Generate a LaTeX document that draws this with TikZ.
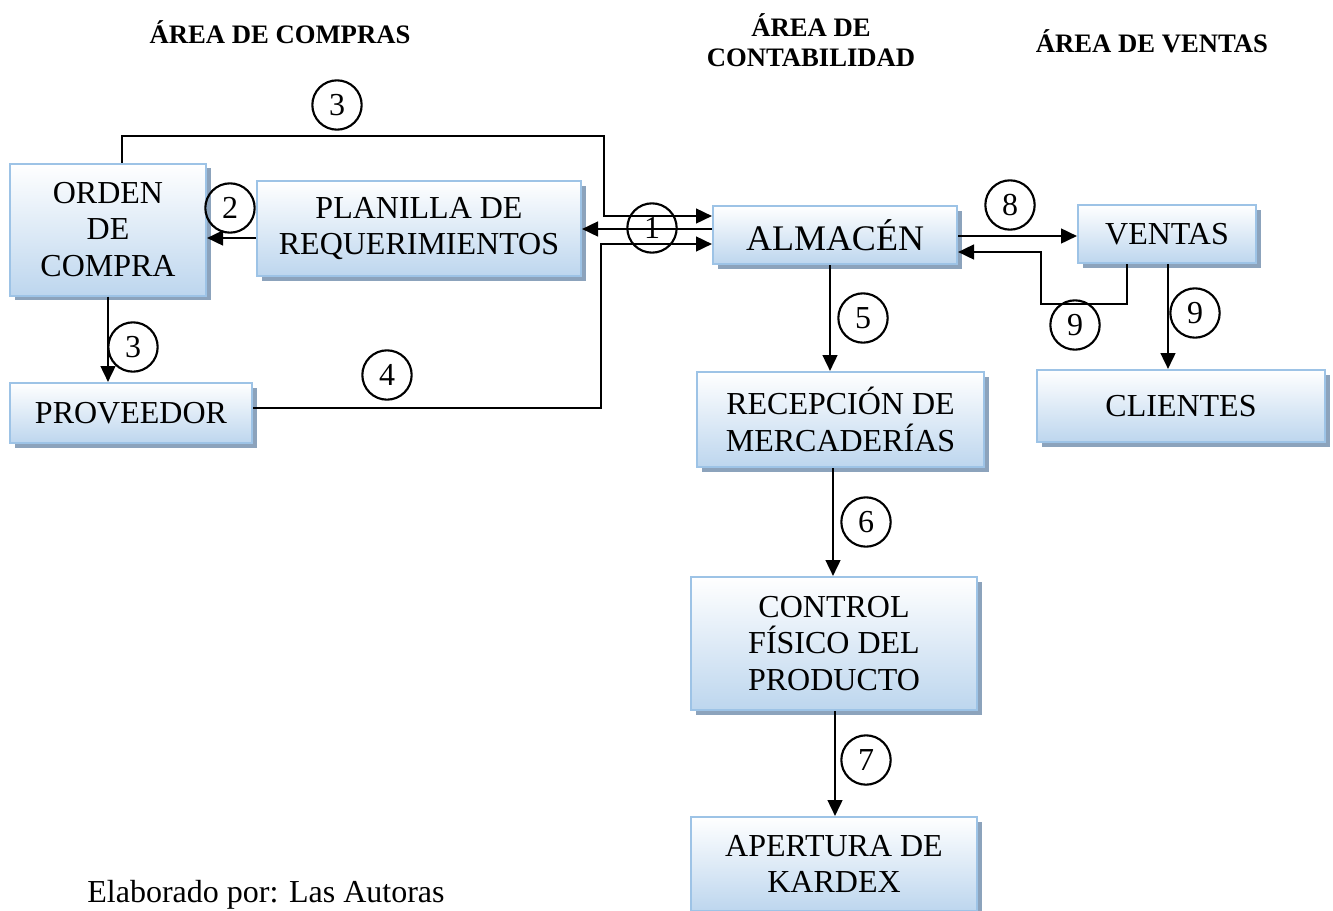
\documentclass[tikz,border=0pt]{standalone}
\usepackage{fontspec}
\setmainfont{Liberation Serif}
\usetikzlibrary{shadows,arrows.meta}
\definecolor{boxborder}{HTML}{9DC3E6}
\definecolor{boxbottom}{HTML}{BDD6EE}
\definecolor{boxshadow}{HTML}{8CA3BC}
\tikzset{
  flowbox/.style={draw=boxborder, line width=1.5pt, top color=white, bottom color=boxbottom,
    drop shadow={shadow xshift=3.5pt, shadow yshift=-3.5pt, fill=boxshadow, opacity=1},
    inner sep=0pt, align=center, font=\fontsize{24}{27.5}\selectfont},
  numcirc/.style={draw, circle, line width=1.6pt, minimum size=37pt, inner sep=0pt,
    font=\fontsize{24}{24}\selectfont},
  arr/.style={line width=1.9pt, -{Triangle[length=12pt,width=11pt]}},
  header/.style={font=\fontsize{20}{22.5}\selectfont\bfseries, align=center}
}
\begin{document}
\begin{tikzpicture}[x=0.75pt,y=-0.75pt]
\useasboundingbox (0,0) rectangle (1333,910);
% headers
\node[header] (hc) at (280,32) {ÁREA DE COMPRAS};
\node[header] (hk) at (811,40) {ÁREA DE\\CONTABILIDAD};
\node[header] (hv) at (1152,41) {ÁREA DE VENTAS};
\node[font=\fontsize{24}{27}\selectfont] (foot) at (266,895) {Elaborado por: Las Autoras};
% boxes
\node[flowbox, minimum width=147pt, minimum height=99pt] (orden) at (108,229.5) {ORDEN\\DE\\COMPRA};
\node[flowbox, minimum width=243pt, minimum height=71.25pt] (planilla) at (419,228.5) {PLANILLA DE\\REQUERIMIENTOS};
\node[flowbox, minimum width=183pt, minimum height=43.5pt, font=\fontsize{27}{30}\selectfont] (almacen) at (835,235) {ALMACÉN};
\node[flowbox, minimum width=133.5pt, minimum height=43.5pt] (ventas) at (1167,234) {VENTAS};
\node[flowbox, minimum width=215.25pt, minimum height=71.25pt] (recepcion) at (840.5,419.5) {RECEPCIÓN DE\\MERCADERÍAS};
\node[flowbox, minimum width=216pt, minimum height=54pt] (clientes) at (1181,406) {CLIENTES};
\node[flowbox, minimum width=181.5pt, minimum height=45pt] (proveedor) at (131,413) {PROVEEDOR};
\node[flowbox, minimum width=214.5pt, minimum height=99.75pt] (control) at (834,643.5) {CONTROL\\FÍSICO DEL\\PRODUCTO};
\node[flowbox, minimum width=214.5pt, minimum height=70.5pt] (apertura) at (834,864) {APERTURA DE\\KARDEX};
% helper coordinates
\coordinate (yA1) at (0,216);
\coordinate (yA2) at (0,229);
\coordinate (yA3) at (0,244);
\coordinate (y2) at (0,238);
\coordinate (y8) at (0,236);
\coordinate (k3) at (604,136);
\coordinate (k3s) at (122,0);
\coordinate (k4) at (601,408);
\coordinate (x5) at (830,0);
\coordinate (x6) at (833,0);
\coordinate (x7) at (835,0);
\coordinate (k9a) at (1127,304);
\coordinate (k9b) at (1041,252);
\coordinate (x9) at (1168,0);
% connectors
\draw[arr] (orden.north -| k3s) |- (k3) |- (almacen.west |- yA1);
\draw[arr] (almacen.west |- yA2) -- (planilla.east |- yA2);
\draw[arr] (proveedor.east |- k4) -- (k4) |- (almacen.west |- yA3);
\draw[arr] (planilla.west |- y2) -- (orden.east |- y2);
\draw[arr] (orden.south) -- (orden.south |- proveedor.north);
\draw[arr] (almacen.south -| x5) -- (recepcion.north -| x5);
\draw[arr] (recepcion.south -| x6) -- (control.north -| x6);
\draw[arr] (control.south -| x7) -- (apertura.north -| x7);
\draw[arr] (almacen.east |- y8) -- (ventas.west |- y8);
\draw[arr] (ventas.south -| k9a) -- (k9a) -- (k9a -| k9b) -- (k9b) -- (almacen.east |- k9b);
\draw[arr] (ventas.south -| x9) -- (clientes.north -| x9);
% number circles
\node[numcirc] (c1) at (652,228) {\raisebox{-4pt}{1}};
\node[numcirc] (c2) at (230,208) {2};
\node[numcirc] (c3a) at (337,105) {\raisebox{-3pt}{3}};
\node[numcirc] (c3b) at (133,347) {\raisebox{-3pt}{3}};
\node[numcirc] (c4) at (387,375) {4};
\node[numcirc] (c5) at (863,318) {\raisebox{-2pt}{5}};
\node[numcirc] (c6) at (866,522) {\raisebox{-2pt}{6}};
\node[numcirc] (c7) at (866,760) {7};
\node[numcirc] (c8) at (1010,205) {8};
\node[numcirc] (c9a) at (1075,325) {\raisebox{-2pt}{9}};
\node[numcirc] (c9b) at (1195,313) {9};
\end{tikzpicture}
\end{document}
